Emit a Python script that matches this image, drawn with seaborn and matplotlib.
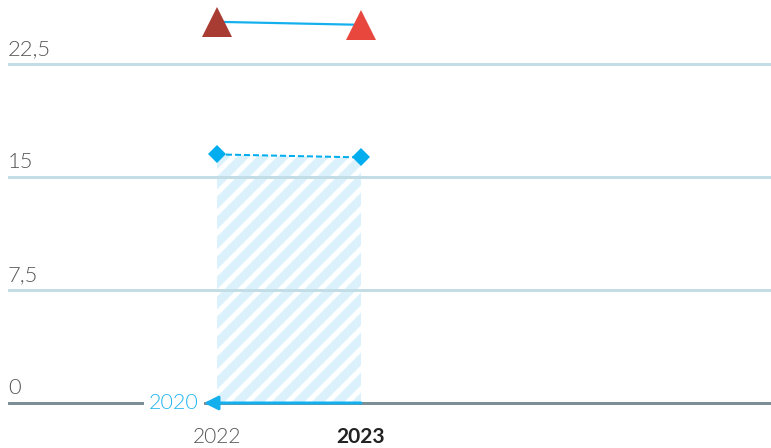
import matplotlib
matplotlib.use('Agg')
import matplotlib.pyplot as plt
import seaborn as sns

years = [2022, 2023]
year_labels = ['2022', '2023']
triangle_values = [25.3, 25.1]
diamond_values = [16.5, 16.3]
triangle_colors = ['#a83b32', '#e8473e']
y_ticks = [0, 7.5, 15, 22.5]
y_tick_labels = ['0', '7,5', '15', '22,5']
compare_label = '2020'

DPI = 120
PT = 72.0 / DPI  # points per pixel

sns.set_style('white')
plt.rcParams['font.family'] = ['Lato', 'DejaVu Sans']

fig = plt.figure(figsize=(771 / DPI, 448 / DPI), dpi=DPI)
ax = fig.add_axes([8 / 771, 0, 763 / 771, 1])
ax.set_xlim(2022 - 209 / 144, 2022 + 554 / 144)
px_unit = 113 / 7.5
ax.set_ylim(-45 / px_unit, 403 / px_unit)
ax.axis('off')

# hatched area under the diamond series
plt.rcParams['hatch.linewidth'] = 9 * PT
plt.rcParams['hatch.color'] = '#dbf1fb'
ax.fill_between(years, 0, diamond_values, facecolor='white', edgecolor='#dbf1fb',
                hatch='//', linewidth=0, zorder=1)

# grid lines
for t in y_ticks[1:]:
    ax.axhline(t, color='#c3dde6', linewidth=3 * PT, zorder=2)
for t, lab in zip(y_ticks, y_tick_labels):
    ax.text(2022 - 209 / 144, t + 5 / px_unit, lab, ha='left', va='bottom',
            fontsize=22 * PT, fontweight=300, color='#555555', zorder=3)

# base axis line
ax.axhline(0, color='#7d8f96', linewidth=3 * PT, zorder=2)

# comparison arrow back to 2020
ax.annotate('', xy=(2022 - 13 / 144, 0), xytext=(2023, 0),
            arrowprops=dict(arrowstyle='-|>,head_length=0.7,head_width=0.35',
                            color='#14b0ee', lw=3 * PT, shrinkA=0, shrinkB=0),
            zorder=4)
ax.text(2022 - 18 / 144, 0, compare_label, ha='right', va='center',
        fontsize=21.5 * PT, fontweight=300, color='#22b6ee', zorder=4,
        bbox=dict(boxstyle='square,pad=0.25', facecolor='white', edgecolor='none'))

# diamond series
sns.lineplot(x=years, y=diamond_values, ax=ax, color='#00aeef', linewidth=2 * PT,
             linestyle=(0, (3, 1.5)), zorder=5)
ax.plot(years, diamond_values, linestyle='none', marker='D', markersize=12.5 * PT,
        color='#00aeef', markeredgewidth=0, zorder=6)

# triangle series
sns.lineplot(x=years, y=triangle_values, ax=ax, color='#14b0ee', linewidth=2.2 * PT,
             zorder=5)
for x, y, c in zip(years, triangle_values, triangle_colors):
    ax.plot([x], [y], linestyle='none', marker='^', markersize=30 * PT, color=c,
            markeredgewidth=0, zorder=6)

# x labels
for x, lab in zip(years, year_labels):
    bold = lab == '2023'
    ax.text(x, -34 / px_unit, lab, ha='center', va='center', fontsize=21 * PT,
            fontweight=700 if bold else 300,
            color='#222222' if bold else '#555555')

fig.savefig('out.png', dpi=DPI)
